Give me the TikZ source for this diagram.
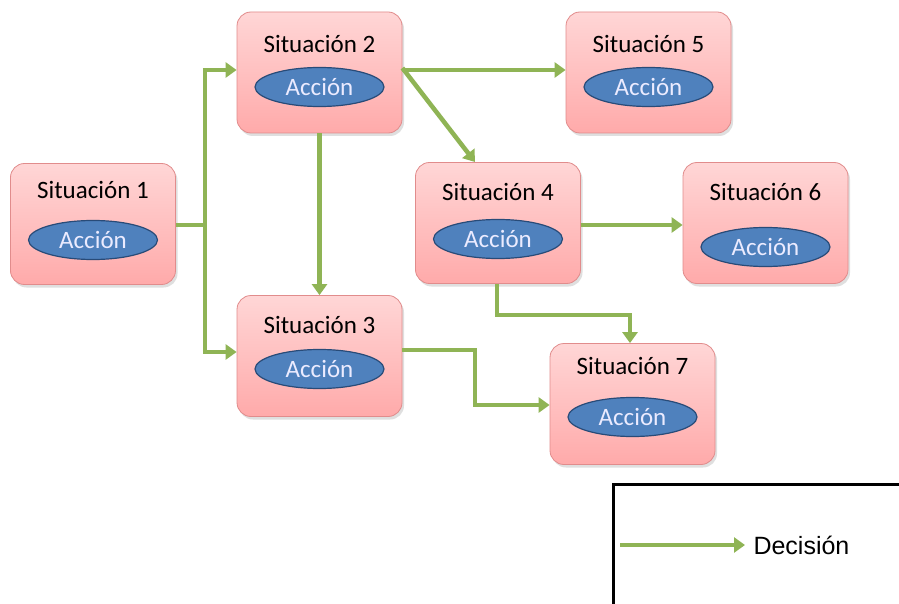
\documentclass[tikz,border=0pt]{standalone}
\usepackage{fontspec}
\setmainfont{Carlito}
\newfontfamily\legendfont{Liberation Sans}
\usetikzlibrary{arrows.meta,shadows,calc,shapes.geometric}
\definecolor{boxtop}{RGB}{255,214,214}
\definecolor{boxbot}{RGB}{255,170,170}
\definecolor{boxedge}{RGB}{225,140,140}
\definecolor{ovalfill}{RGB}{79,129,189}
\definecolor{ovaledge}{RGB}{40,75,120}
\definecolor{decgreen}{RGB}{143,180,85}
\begin{document}
\begin{tikzpicture}[x=1pt,y=-1pt,
  situbox/.style={draw=boxedge, line width=0.8pt, rounded corners=14pt,
    top color=boxtop, bottom color=boxbot, minimum width=165pt, minimum height=121pt,
    drop shadow={shadow xshift=2pt, shadow yshift=-3pt, opacity=0.25}},
  oval/.style={ellipse, draw=ovaledge, line width=1.2pt, fill=ovalfill,
    minimum width=129pt, minimum height=39pt, inner sep=0pt,
    text=white!92!blue, font=\fontsize{25}{27}\selectfont},
  title/.style={font=\fontsize{25}{27}\selectfont, text=black},
  decision/.style={draw=decgreen, line width=4.5pt,
    -{Triangle[width=15pt,length=11pt]}},
  trunk/.style={draw=decgreen, line width=4.5pt}]
\useasboundingbox (0,0) rectangle (899,604);
\fill[white] (0,0) rectangle (899,604);

% situation boxes: name, x, y of box, number, y of title, y of action
\newcommand{\situation}[6]{%
  \node[situbox] (#1) at (#2,#3) {};
  \node[title] (#1t) at (#2,#5) {Situación #4};
  \node[oval] (#1a) at (#2,#6) {Acción};
}
\situation{s1}{93}{224}{1}{190}{240}
\situation{s2}{319.5}{72.5}{2}{44}{87}
\situation{s5}{648.5}{72.5}{5}{44}{87}
\situation{s4}{498}{223}{4}{192}{239}
\situation{s6}{765.5}{223}{6}{192}{247}
\situation{s3}{319.5}{356}{3}{325}{369}
\situation{s7}{632.5}{404}{7}{366}{417}

% branching point and bends
\coordinate (j1) at (205,225);
\coordinate (j1u) at (205,70);
\coordinate (j1d) at (205,352);
\coordinate (b4a) at (497,315);
\coordinate (b4b) at (630,315);
\coordinate (b3a) at (475,350);
\coordinate (b3b) at (475,405);
\coordinate (d4) at (475,162);

% decisions
\draw[trunk] (s1.east |- j1) -- (j1);
\draw[trunk] (j1u) -- (j1d);
\draw[decision] ([xshift=-2.25pt]j1u) -- (s2.west |- j1u);
\draw[decision] ([xshift=-2.25pt]j1d) -- (s3.west |- j1d);
\draw[decision] (s2.south) -- (s3.north);
\draw[decision] (s2.east |- j1u) -- (s5.west |- j1u);
\draw[decision] ([yshift=2pt]s2.east |- j1u) -- (d4);
\draw[decision] (s4.east |- j1) -- (s6.west |- j1);
\draw[decision] (s4.south -| b4a) |- (b4b) -- (s7.north -| b4b);
\draw[decision] (s3.east |- b3a) -| (b3b) -- (s7.west |- b3b);

% legend
\node[draw=black, line width=3pt, minimum width=290pt, minimum height=122pt,
  anchor=north west, inner sep=0pt] (legend) at (612,483) {};
\coordinate (la) at (620,545);
\coordinate (lb) at (745,545);
\draw[decision] (la) -- (lb);
\node[anchor=west, font=\legendfont\fontsize{25}{28}\selectfont] (ltext) at (750,545) {Decisión};
\end{tikzpicture}
\end{document}
